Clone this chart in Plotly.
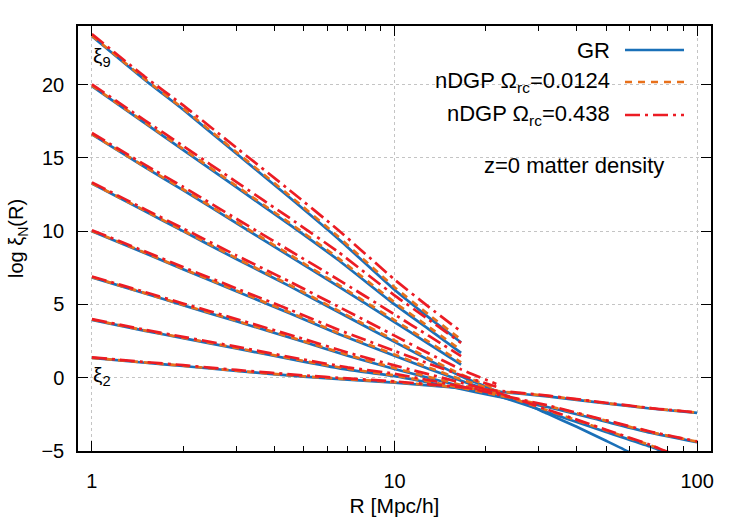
import plotly.graph_objects as go

# ---------------- data ----------------
R_hi = [1, 1.5, 2, 3, 4.5, 6.5, 10, 13, 16.6]            # xi_7 .. xi_9
R_mid = [1, 1.5, 2, 3, 4.5, 6.5, 10, 13, 16.6, 21.7]     # xi_5, xi_6
R_lo = [1, 1.5, 2, 3, 5, 7, 10, 16, 22, 32, 50, 70, 100]  # xi_2 .. xi_4
R_gr5 = [1, 1.5, 2, 3, 4.5, 6.5, 10, 13, 16.6, 21.7, 26, 32, 40, 50, 60, 66]

# GR
gr_xi9 = [23.3, 20.3, 18.3, 15.3, 12.3, 9.5, 6.0, 4.1, 2.4]
gr_xi8 = [19.9, 17.35, 15.55, 13.0, 10.45, 8.05, 5.0, 3.3, 1.7]
gr_xi7 = [16.6, 14.35, 12.8, 10.55, 8.3, 6.25, 3.8, 2.3, 0.9]
gr_xi6 = [13.25, 11.35, 10.0, 8.1, 6.25, 4.5, 2.45, 1.2, 0.1, -0.9]
gr_xi5 = [10.0, 8.5, 7.4, 5.9, 4.4, 3.0, 1.5, 0.6, -0.2, -1.05, -1.6, -2.45, -3.35, -4.3, -5.1, -5.6]
gr_xi4 = [6.85, 5.75, 4.95, 3.85, 2.45, 1.5, 0.6, -0.5, -1.25, -2.35, -3.7, -4.7, -6.0]
gr_xi3 = [3.95, 3.2, 2.7, 2.0, 1.1, 0.55, 0.1, -0.7, -1.3, -2.0, -3.0, -3.75, -4.4]
gr_xi2 = [1.35, 1.02, 0.8, 0.46, 0.08, -0.13, -0.33, -0.68, -0.95, -1.27, -1.75, -2.1, -2.4]

# nDGP Omega_rc = 0.0124
n1_xi9 = [23.34, 20.36, 18.38, 15.4, 12.43, 9.65, 6.18, 4.29, 2.6]
n1_xi8 = [19.93, 17.4, 15.62, 13.09, 10.56, 8.18, 5.15, 3.46, 1.87]
n1_xi7 = [16.63, 14.39, 12.86, 10.63, 8.4, 6.36, 3.93, 2.44, 1.05]
n1_xi6 = [13.27, 11.39, 10.05, 8.16, 6.33, 4.59, 2.55, 1.31, 0.22, -0.78]
n1_xi5 = [10.02, 8.53, 7.44, 5.95, 4.46, 3.07, 1.58, 0.69, -0.11, -0.9]
n1_xi4 = [6.87, 5.77, 4.98, 3.89, 2.5, 1.56, 0.66, -0.42, -1.1, -2.22, -3.59, -4.61, -5.92]
n1_xi3 = [3.97, 3.22, 2.73, 2.04, 1.15, 0.61, 0.16, -0.62, -1.2, -1.92, -2.93, -3.7, -4.36]
n1_xi2 = [1.36, 1.04, 0.82, 0.48, 0.1, -0.1, -0.3, -0.65, -0.92, -1.24, -1.73, -2.08, -2.38]

# nDGP Omega_rc = 0.438
n2_xi9 = [23.45, 20.52, 18.6, 15.7, 12.8, 10.1, 6.7, 4.82, 3.15]
n2_xi8 = [20.02, 17.55, 15.82, 13.36, 10.9, 8.6, 5.62, 3.95, 2.38]
n2_xi7 = [16.7, 14.52, 13.03, 10.85, 8.68, 6.71, 4.32, 2.85, 1.48]
n2_xi6 = [13.33, 11.49, 10.19, 8.35, 6.56, 4.87, 2.87, 1.65, 0.57, -0.42]
n2_xi5 = [10.07, 8.61, 7.55, 6.1, 4.65, 3.29, 1.83, 0.95, 0.17, -0.62]
n2_xi4 = [6.91, 5.84, 5.07, 4.01, 2.65, 1.72, 0.84, -0.25, -1.03, -2.17, -3.55, -4.58, -5.9]
n2_xi3 = [4.0, 3.27, 2.79, 2.12, 1.24, 0.71, 0.27, -0.53, -1.15, -1.88, -2.9, -3.67, -4.34]
n2_xi2 = [1.39, 1.07, 0.86, 0.53, 0.16, -0.05, -0.25, -0.61, -0.89, -1.22, -1.71, -2.07, -2.37]

legend_labels = ["GR", "nDGP Ω<sub>rc</sub>=0.0124", "nDGP Ω<sub>rc</sub>=0.438"]
y_ticks = [-5, 0, 5, 10, 15, 20]

# ---------------- styles ----------------
BLUE = "#1a70b8"
ORANGE = "#e8701a"
RED = "#ec1c24"
styles = [
    dict(color=BLUE, width=2.7, dash="solid"),
    dict(color=ORANGE, width=2.7, dash="7px,6px"),
    dict(color=RED, width=2.7, dash="15px,5px,3px,5px"),
]

models = [
    [(R_gr5, gr_xi5), (R_mid, gr_xi6), (R_hi, gr_xi7), (R_hi, gr_xi8), (R_hi, gr_xi9),
     (R_lo, gr_xi2), (R_lo, gr_xi3), (R_lo, gr_xi4)],
    [(R_mid, n1_xi5), (R_mid, n1_xi6), (R_hi, n1_xi7), (R_hi, n1_xi8), (R_hi, n1_xi9),
     (R_lo, n1_xi2), (R_lo, n1_xi3), (R_lo, n1_xi4)],
    [(R_mid, n2_xi5), (R_mid, n2_xi6), (R_hi, n2_xi7), (R_hi, n2_xi8), (R_hi, n2_xi9),
     (R_lo, n2_xi2), (R_lo, n2_xi3), (R_lo, n2_xi4)],
]

fig = go.Figure()
for mi, series in enumerate(models):
    for xs, ys in series:
        fig.add_trace(go.Scatter(
            x=xs, y=ys, mode="lines", line=dict(shape="spline", smoothing=0.5, **styles[mi]),
            showlegend=False, hoverinfo="skip"))

FONT = "Liberation Sans, Arial, sans-serif"

# gnuplot-style key: text right-aligned, sample to the right
L, Rr, T, B = 78, 711, 26, 451
def px(xp):
    return (xp - L) / (Rr - L)
def py(yp):
    return (B - yp) / (B - T)

key_rows = [50, 82, 115]
for i, lab in enumerate(legend_labels):
    fig.add_annotation(x=px(612), y=py(key_rows[i]), xref="paper", yref="paper",
                       text=lab, showarrow=False, xanchor="right", yanchor="middle",
                       font=dict(size=22, color="black", family=FONT))
    fig.add_shape(type="line", xref="paper", yref="paper",
                  x0=px(625), x1=px(684), y0=py(key_rows[i]), y1=py(key_rows[i]),
                  line=dict(color=styles[i]["color"], width=2.7, dash=styles[i]["dash"]))

fig.add_annotation(x=px(666), y=py(165), xref="paper", yref="paper",
                   text="z=0 matter density", showarrow=False, xanchor="right", yanchor="middle",
                   font=dict(size=22, color="black", family=FONT))

fig.add_annotation(x=0, y=21.9, xref="x", yref="y", text="ξ<sub>9</sub>", showarrow=False,
                   xanchor="left", yanchor="middle", xshift=-1,
                   font=dict(size=21, color="black", family=FONT))
fig.add_annotation(x=0, y=0.1, xref="x", yref="y", text="ξ<sub>2</sub>", showarrow=False,
                   xanchor="left", yanchor="middle", xshift=-1,
                   font=dict(size=21, color="black", family=FONT))

fig.update_layout(
    width=750, height=525,
    margin=dict(l=L, r=750 - Rr, t=T, b=525 - B),
    plot_bgcolor="white", paper_bgcolor="white",
    font=dict(family=FONT, size=20, color="black"),
    showlegend=False,
)
fig.update_xaxes(
    type="log", range=[-0.046, 2.046],
    tickvals=[1, 10, 100], ticktext=["1", "10", "100"],
    ticks="inside", ticklen=10, tickwidth=1.4, tickcolor="black",
    minor=dict(ticks="inside", ticklen=5, tickwidth=1.4, tickcolor="black",
               tickvals=[2, 3, 4, 5, 6, 7, 8, 9, 20, 30, 40, 50, 60, 70, 80, 90], showgrid=False),
    showline=True, linecolor="black", linewidth=1.5, mirror="allticks",
    showgrid=True, gridcolor="#c4c4c4", griddash="dot", gridwidth=1,
    zeroline=False, ticklabelstandoff=11,
    title=dict(text="R [Mpc/h]", standoff=8, font=dict(size=21)),
    tickfont=dict(size=20),
)
fig.update_yaxes(
    range=[-5, 24], tickvals=y_ticks,
    ticks="inside", ticklen=10, tickwidth=1.4, tickcolor="black",
    showline=True, linecolor="black", linewidth=1.5, mirror="allticks",
    showgrid=True, gridcolor="#c4c4c4", griddash="dot", gridwidth=1,
    zeroline=False, ticklabelstandoff=8,
    title=dict(text="log ξ<sub>N</sub>(R)", standoff=12, font=dict(size=20)),
    tickfont=dict(size=20),
)

fig.write_html("out.html")
